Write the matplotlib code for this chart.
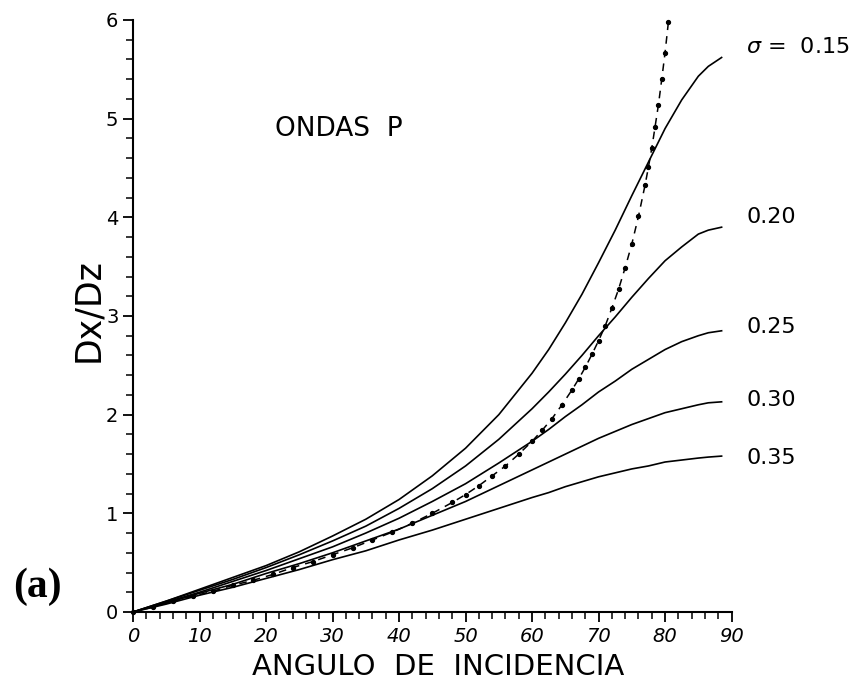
"""
Dx/Dz ratio vs incidence angle for P waves, several Poisson ratios.
"""

import matplotlib
matplotlib.use('Agg')
import matplotlib.pyplot as plt
from matplotlib.ticker import MultipleLocator

# angles (deg) for the solid curves
angles = [0, 5, 10, 15, 20, 25, 30, 35, 40, 45, 50, 55, 60, 62.5, 65, 67.5, 70,
          72.5, 75, 77.5, 80, 82.5, 85, 86.5, 88.5]

# Dx/Dz, one list per Poisson ratio
s015 = [0, 0.11, 0.23, 0.35, 0.47, 0.61, 0.77, 0.94, 1.14, 1.38, 1.66, 2.00, 2.42, 2.66,
        2.93, 3.22, 3.54, 3.87, 4.22, 4.56, 4.90, 5.19, 5.43, 5.53, 5.62]
s020 = [0, 0.11, 0.22, 0.33, 0.45, 0.58, 0.72, 0.87, 1.05, 1.25, 1.48, 1.75, 2.06, 2.23,
        2.41, 2.60, 2.80, 2.99, 3.19, 3.38, 3.56, 3.70, 3.83, 3.87, 3.90]
s025 = [0, 0.10, 0.20, 0.31, 0.42, 0.54, 0.66, 0.80, 0.95, 1.12, 1.30, 1.51, 1.73, 1.85,
        1.98, 2.10, 2.23, 2.34, 2.46, 2.56, 2.66, 2.74, 2.80, 2.83, 2.85]
s030 = [0, 0.09, 0.19, 0.28, 0.39, 0.49, 0.60, 0.72, 0.84, 0.98, 1.12, 1.28, 1.44, 1.52,
        1.60, 1.68, 1.76, 1.83, 1.90, 1.96, 2.02, 2.06, 2.10, 2.12, 2.13]
s035 = [0, 0.08, 0.17, 0.25, 0.34, 0.43, 0.53, 0.62, 0.73, 0.83, 0.94, 1.05, 1.16, 1.21,
        1.27, 1.32, 1.37, 1.41, 1.45, 1.48, 1.52, 1.54, 1.56, 1.57, 1.58]

curves = [s015, s020, s025, s030, s035]
labels = [r'$\sigma$ =  0.15', '0.20', '0.25', '0.30', '0.35']
label_y = [5.73, 4.0, 2.89, 2.15, 1.56]

# dashed curve with dots
dash_x = [0, 3, 6, 9, 12, 15, 18, 21, 24, 27, 30, 33, 36, 39, 42, 45, 48, 50, 52, 54,
          56, 58, 60, 61.5, 63, 64.5, 66, 67, 68, 69, 70, 71, 72, 73, 74, 75, 76, 77,
          77.5, 78, 78.5, 79, 79.5, 80, 80.5]
dash_y = [0, 0.05, 0.11, 0.16, 0.21, 0.27, 0.32, 0.38, 0.45, 0.51, 0.58, 0.65, 0.73, 0.81,
          0.90, 1.00, 1.11, 1.19, 1.28, 1.38, 1.48, 1.60, 1.73, 1.84, 1.96, 2.10, 2.25,
          2.36, 2.48, 2.61, 2.75, 2.90, 3.08, 3.27, 3.49, 3.73, 4.01, 4.33, 4.51, 4.70,
          4.92, 5.14, 5.40, 5.67, 5.98]

fig = plt.figure(figsize=(8.49, 6.87), dpi=100)
ax = fig.add_axes([0.1567, 0.1092, 0.705, 0.8617])

for ys in curves:
    ax.plot(angles, ys, color='black', lw=1.2)

ax.plot(dash_x, dash_y, color='black', lw=1.1, ls=(0, (5, 4)),
        marker='o', ms=2.8, clip_on=False)

for lab, yy in zip(labels, label_y):
    ax.text(92.2, yy, lab, fontsize=16, ha='left', va='center', clip_on=False)

ax.text(0.237, 0.816, 'ONDAS  P', transform=ax.transAxes, fontsize=19,
        ha='left', va='center')

ax.set_xlim(0, 90)
ax.set_ylim(0, 6)
ax.spines['top'].set_visible(False)
ax.spines['right'].set_visible(False)
ax.spines['left'].set_linewidth(1.5)
ax.spines['bottom'].set_linewidth(1.5)

ax.xaxis.set_major_locator(MultipleLocator(10))
ax.xaxis.set_minor_locator(MultipleLocator(2))
ax.yaxis.set_major_locator(MultipleLocator(1))
ax.yaxis.set_minor_locator(MultipleLocator(0.2))
ax.tick_params(which='major', direction='out', length=7, width=1.3, labelsize=14)
ax.tick_params(which='minor', direction='out', length=5, width=1.1)
for t in ax.get_xticklabels():
    t.set_fontstyle('italic')

fig.text(438 / 849, 1 - 667 / 687, 'ANGULO  DE  INCIDENCIA', fontsize=21,
         ha='center', va='center')
fig.text(88 / 849, 1 - 310 / 687, 'Dx/Dz', fontsize=25, rotation=90,
         ha='center', va='center')
fig.text(37 / 849, 1 - 587 / 687, '(a)', fontsize=30, fontweight='bold',
         family='Liberation Serif', ha='center', va='center')

plt.savefig('out.png', dpi=100)
